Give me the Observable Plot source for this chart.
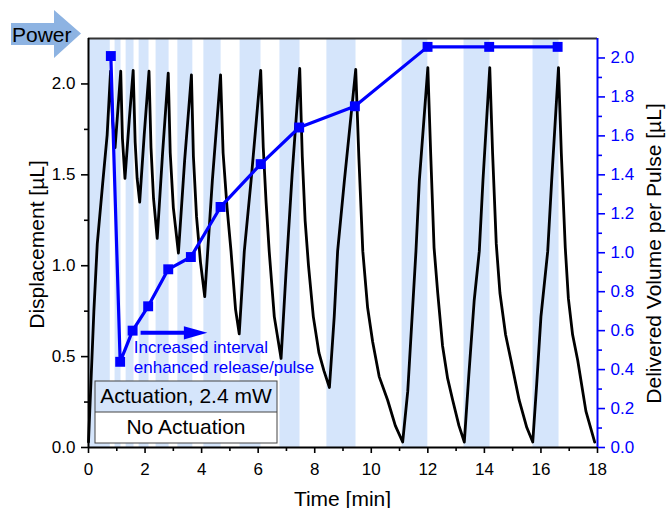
<!DOCTYPE html>
<html><head><meta charset="utf-8">
<script src="https://cdn.jsdelivr.net/npm/d3@7"></script>
<script src="https://cdn.jsdelivr.net/npm/@observablehq/plot@0.6"></script>
<style>
body{margin:0;background:#fff;}
#chart{width:667px;height:508px;overflow:hidden;}
svg text{font-family:"Liberation Sans",Arial,sans-serif;}
</style>
</head><body><div id="chart"></div>
<script>
// ---- data ----
const bandStart = [0, 0.94, 1.33, 1.79, 2.39, 3.16, 4.08, 5.36, 6.77, 8.43, 11.09, 13.28, 15.72];
const bandEnd   = [0.77, 1.15, 1.61, 2.14, 2.85, 3.69, 4.69, 6.10, 7.48, 9.46, 12.00, 14.20, 16.64];

const dispTime = [
  0.00, 0.19, 0.31, 0.50, 0.66, 0.78,
  0.85, 0.94, 1.04, 1.14,
  1.20, 1.29, 1.44, 1.58,
  1.65, 1.72, 1.81, 1.97, 2.14,
  2.21, 2.30, 2.43, 2.62, 2.82,
  2.89, 3.00, 3.18, 3.40, 3.64,
  3.71, 3.82, 3.96, 4.11, 4.38, 4.67,
  4.76, 4.90, 5.04, 5.20, 5.33, 5.51, 5.75, 6.09,
  6.18, 6.28, 6.39, 6.57, 6.81, 6.98, 7.20, 7.47,
  7.56, 7.66, 7.78, 7.95, 8.15, 8.33, 8.52, 8.69, 8.81, 9.05, 9.45,
  9.56, 9.70, 9.87, 10.05, 10.28, 10.58, 10.85, 11.11, 11.29, 11.58, 11.70, 12.00,
  12.10, 12.22, 12.35, 12.52, 12.70, 12.88, 13.10, 13.29, 13.45, 13.64, 13.82, 13.95, 14.19,
  14.29, 14.42, 14.55, 14.75, 14.94, 15.23, 15.50, 15.71, 15.85, 16.00, 16.24, 16.38, 16.62,
  16.72, 16.86, 16.97, 17.12, 17.30, 17.59, 17.90
];
const dispValue = [
  0.03, 0.75, 1.12, 1.45, 1.72, 2.07,
  1.80, 1.65, 1.86, 2.07,
  1.70, 1.48, 1.80, 2.075,
  1.68, 1.48, 1.35, 1.72, 2.07,
  1.65, 1.37, 1.15, 1.62, 2.06,
  1.62, 1.32, 1.07, 1.58, 2.05,
  1.60, 1.27, 1.02, 0.83, 1.47, 2.05,
  1.62, 1.32, 1.08, 0.76, 0.625, 1.08, 1.47, 2.075,
  1.65, 1.35, 1.08, 0.72, 0.49, 0.95, 1.50, 2.085,
  1.60, 1.25, 1.00, 0.72, 0.52, 0.42, 0.33, 0.72, 1.08, 1.47, 2.08,
  1.60, 1.08, 0.77, 0.58, 0.39, 0.26, 0.12, 0.03, 0.31, 1.08, 1.47, 2.09,
  1.62, 1.10, 0.85, 0.56, 0.38, 0.26, 0.12, 0.03, 0.40, 0.81, 1.08, 1.47, 2.09,
  1.62, 1.12, 0.85, 0.62, 0.48, 0.26, 0.11, 0.03, 0.35, 0.72, 1.08, 1.47, 2.09,
  1.62, 1.10, 0.82, 0.62, 0.48, 0.20, 0.03
];

const pulseTime   = [0.79, 1.12, 1.56, 2.11, 2.82, 3.62, 4.67, 6.09, 7.45, 9.42, 11.99, 14.17, 16.59];
const pulseVolume = [2.01, 0.44, 0.60, 0.725, 0.915, 0.978, 1.235, 1.455, 1.643, 1.752, 2.057, 2.057, 2.057];

const xTicks = [0, 2, 4, 6, 8, 10, 12, 14, 16, 18];
const xMinorTicks = [1, 3, 5, 7, 9, 11, 13, 15, 17];
const yLeftTicks = [0, 0.5, 1.0, 1.5, 2.0];
const yLeftMinor = [0.25, 0.75, 1.25, 1.75];
const yRightTicks = [0, 0.2, 0.4, 0.6, 0.8, 1.0, 1.2, 1.4, 1.6, 1.8, 2.0];
const yRightMinor = [0.1, 0.3, 0.5, 0.7, 0.9, 1.1, 1.3, 1.5, 1.7, 1.9];

const xLabel = "Time [min]";
const yLeftLabel = "Displacement [µL]";
const yRightLabel = "Delivered Volume per Pulse [µL]";
const legendOn = "Actuation, 2.4 mW";
const legendOff = "No Actuation";
const noteLines = ["Increased interval", "enhanced release/pulse"];
const powerLabel = "Power";

// ---- derived tables ----
const Y_MAX_L = 2.25, Y_MAX_R = 2.10, K = Y_MAX_L / Y_MAX_R;
const BAND = "#d5e5fb", BLUE = "#0000ff";
const bands = bandStart.map((s, i) => ({s, e: bandEnd[i]}));
const disp = dispTime.map((t, i) => ({t, v: dispValue[i]}));
const pulse = pulseTime.map((t, i) => ({t, v: pulseVolume[i] * K}));

const FS = 17;
const plot = Plot.plot({
  width: 667, height: 508,
  marginLeft: 88, marginRight: 70, marginTop: 38, marginBottom: 61,
  style: {fontFamily: '"Liberation Sans", Arial, sans-serif', fontSize: FS + "px", background: "#fff", color: "#000"},
  x: {domain: [0, 18]},
  y: {domain: [0, Y_MAX_L]},
  marks: [
    Plot.rect(bands, {x1: "s", x2: "e", y1: 0, y2: Y_MAX_L, fill: BAND}),
    Plot.line(disp, {x: "t", y: "v", stroke: "#000", strokeWidth: 2.8, strokeLinejoin: "round"}),
    Plot.line(pulse, {x: "t", y: "v", stroke: BLUE, strokeWidth: 3.2}),
    Plot.dot(pulse, {x: "t", y: "v", symbol: "square", r: 5.6, fill: BLUE}),
    // axes
    Plot.axisX({ticks: xTicks, tickSize: 6, tickPadding: 9, tickFormat: d => String(d), fontSize: FS, strokeWidth: 1.6, label: null}),
    Plot.axisX({ticks: xMinorTicks, tickSize: 4, tickFormat: () => "", strokeWidth: 1.6, label: null}),
    Plot.axisY({ticks: yLeftTicks, anchor: "left", tickSize: 7, tickPadding: 6, tickFormat: d => d.toFixed(1), fontSize: FS, strokeWidth: 1.6, label: null}),
    Plot.axisY({ticks: yLeftMinor, anchor: "left", tickSize: 4, tickFormat: () => "", strokeWidth: 1.6, label: null}),
    Plot.axisY({ticks: yRightTicks.map(v => v * K), anchor: "right", tickSize: 7, tickPadding: 6,
      tickFormat: d => (d / K).toFixed(1), fontSize: FS, color: BLUE, stroke: BLUE, fill: BLUE, strokeWidth: 1.6, label: null}),
    Plot.axisY({ticks: yRightMinor.map(v => v * K), anchor: "right", tickSize: 4, tickFormat: () => "",
      stroke: BLUE, strokeWidth: 1.6, label: null}),
    Plot.ruleY([0], {stroke: "#000", strokeWidth: 2}),
    Plot.ruleY([Y_MAX_L], {stroke: "#333", strokeWidth: 2}),
    Plot.ruleX([0], {stroke: "#000", strokeWidth: 2}),
    Plot.ruleX([18], {stroke: BLUE, strokeWidth: 2})
  ]
});

document.getElementById("chart").appendChild(plot);

// ---- decorations / annotations ----
const svg = d3.select(plot);
const sx = plot.scale("x"), sy = plot.scale("y");

// axis titles
svg.append("text").attr("x", (sx.apply(0) + sx.apply(18)) / 2).attr("y", 506)
  .attr("text-anchor", "middle").attr("font-size", 21).attr("fill", "#000").text(xLabel);
svg.append("text").attr("transform", `translate(44,${(sy.apply(0) + sy.apply(Y_MAX_L)) / 2 + 2}) rotate(-90)`)
  .attr("text-anchor", "middle").attr("font-size", 21).attr("fill", "#000").text(yLeftLabel);
svg.append("text").attr("transform", `translate(661,${(sy.apply(0) + sy.apply(Y_MAX_L)) / 2 + 11}) rotate(-90)`)
  .attr("text-anchor", "middle").attr("font-size", 21).attr("fill", "#000").text(yRightLabel);

// Power arrow
svg.append("path").attr("d", "M11,23H54V10L81,33.5L54,58V45H11Z").attr("fill", "#8db3e2");
svg.append("text").attr("x", 12).attr("y", 42).attr("text-anchor", "start").attr("font-size", 21).attr("fill", "#000").text(powerLabel);

// annotation arrow + text (positioned in data units)
const ay = sy.apply(0.628);
const ax1 = sx.apply(1.86), axHead = sx.apply(3.39), ax2 = sx.apply(4.22);
svg.append("line").attr("x1", ax1).attr("x2", axHead + 2).attr("y1", ay).attr("y2", ay)
  .attr("stroke", BLUE).attr("stroke-width", 4);
svg.append("path").attr("d", `M${axHead},${ay - 6.7}L${ax2},${ay}L${axHead},${ay + 6.7}Z`).attr("fill", BLUE);
noteLines.forEach((s, i) => {
  svg.append("text").attr("x", sx.apply(1.62)).attr("y", sy.apply(i === 0 ? 0.518 : 0.405))
    .attr("text-anchor", "start").attr("font-size", 17).attr("fill", BLUE).text(s);
});

// legend box
const lg = svg.append("g");
lg.append("rect").attr("x", 95).attr("y", 381).attr("width", 182).attr("height", 31).attr("fill", BAND);
lg.append("rect").attr("x", 95).attr("y", 412).attr("width", 182).attr("height", 31).attr("fill", "#fff");
lg.append("rect").attr("x", 95).attr("y", 381).attr("width", 182).attr("height", 62)
  .attr("fill", "none").attr("stroke", "#444").attr("stroke-width", 1);
lg.append("line").attr("x1", 95).attr("x2", 277).attr("y1", 412).attr("y2", 412).attr("stroke", "#444").attr("stroke-width", 1);
lg.append("text").attr("x", 186).attr("y", 403).attr("text-anchor", "middle").attr("font-size", 21).attr("fill", "#000").text(legendOn);
lg.append("text").attr("x", 186).attr("y", 433.5).attr("text-anchor", "middle").attr("font-size", 21).attr("fill", "#000").text(legendOff);
</script>
</body></html>
